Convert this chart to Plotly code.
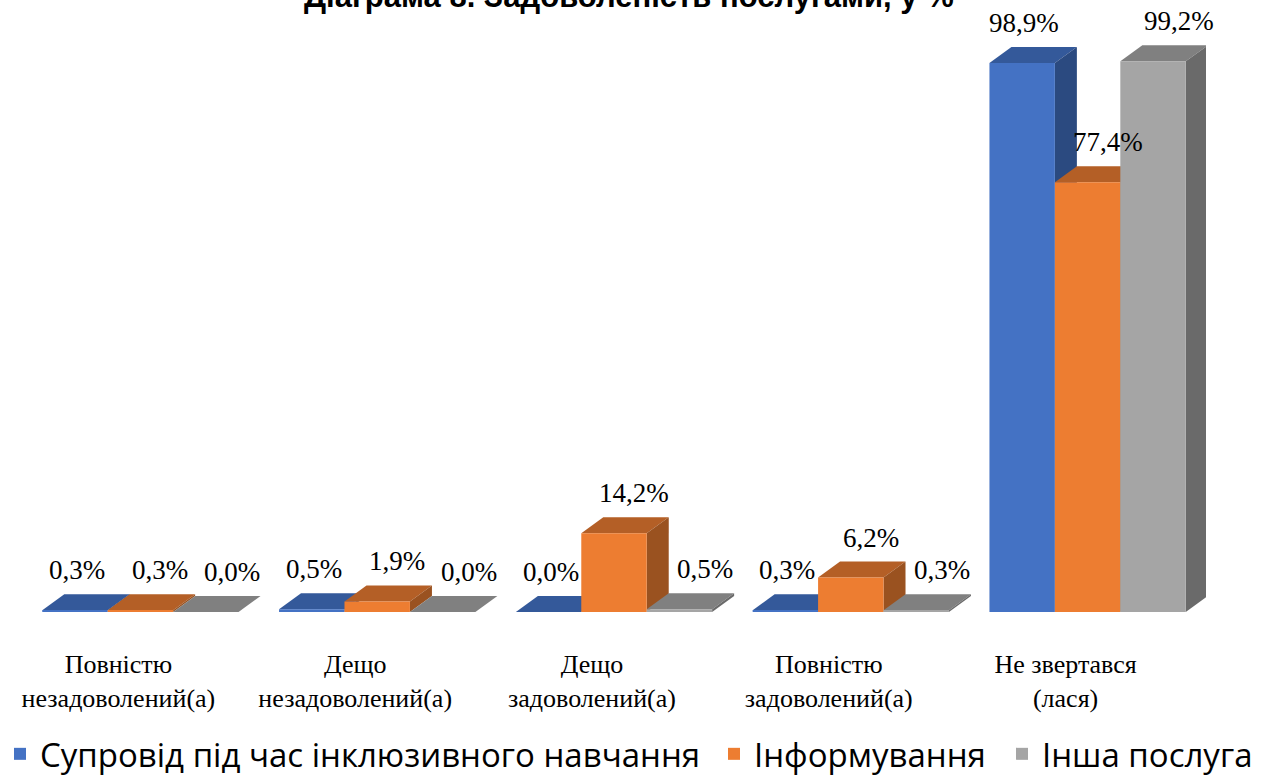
import plotly.graph_objects as go

# Satisfaction with services, % of respondents
categories = [
    "Повністю<br>незадоволений(а)",
    "Дещо<br>незадоволений(а)",
    "Дещо<br>задоволений(а)",
    "Повністю<br>задоволений(а)",
    "Не звертався<br>(лася)",
]
series_names = [
    "Супровід під час інклюзивного навчання",
    "Інформування",
    "Інша послуга",
]
support_vals = [0.3, 0.5, 0.0, 0.3, 98.9]
inform_vals = [0.3, 1.9, 14.2, 6.2, 77.4]
other_vals = [0.0, 0.0, 0.5, 0.3, 99.2]
title_text = "Діаграма 8. Задоволеність послугами, у %"

# colour sets: front face, top face, side face
palettes = [
    ("#4472C4", "#34599A", "#2B4A80"),
    ("#ED7D31", "#B45F26", "#9A5220"),
    ("#A5A5A5", "#808080", "#6A6A6A"),
]
label_xshift = [2, 20, 26]
SERIF = "Liberation Serif, Times New Roman, serif"

W, H = 1264, 778
ML, MR, MT, MB = 22, 58, 30, 166
x_range = [-0.5, 4.5]
y_max = 104.85
plot_h = H - MT - MB
px_per_x = (W - ML - MR) / (x_range[1] - x_range[0])
px_per_y = plot_h / y_max

# pseudo-3D depth of the columns
DX = 22 / px_per_x
DY = 16 / px_per_y

group_w = 1 - 0.171
bar_w = group_w / 3

# one single-entry legend per series, laid out along the bottom edge
legend_ids = ["legend", "legend2", "legend3"]
legend_left_px = [0, 714, 1002]

fig = go.Figure()
shapes = []
annotations = []
all_vals = [support_vals, inform_vals, other_vals]
xs = list(range(len(categories)))

for k, (name, vals, pal) in enumerate(zip(series_names, all_vals, palettes)):
    off = -group_w / 2 + k * bar_w
    fig.add_trace(go.Bar(
        x=xs, y=vals, name=name, width=bar_w, offset=off,
        marker=dict(color=pal[0], line=dict(width=0)),
        legend=legend_ids[k], hoverinfo="skip",
    ))

# top and side faces, drawn group by group from left to right so that
# later columns overlap the side faces of earlier ones
for i in xs:
    for k, (vals, pal) in enumerate(zip(all_vals, palettes)):
        v = vals[i]
        x0 = i - group_w / 2 + k * bar_w
        x1 = x0 + bar_w
        top = f"M {x0} {v} L {x1} {v} L {x1 + DX} {v + DY} L {x0 + DX} {v + DY} Z"
        side = f"M {x1} 0 L {x1} {v} L {x1 + DX} {v + DY} L {x1 + DX} {DY} Z"
        shapes.append(dict(type="path", path=top, xref="x", yref="y",
                           fillcolor=pal[1], line=dict(width=0), layer="below"))
        shapes.append(dict(type="path", path=side, xref="x", yref="y",
                           fillcolor=pal[2], line=dict(width=0), layer="below"))
        annotations.append(dict(
            x=(x0 + x1) / 2, y=v, xref="x", yref="y",
            text=f"{v:.1f}%".replace(".", ","),
            showarrow=False, xanchor="center", yanchor="middle",
            xshift=label_xshift[k], yshift=40,
            font=dict(family=SERIF, size=27, color="#000000"),
        ))

# chart heading, sitting at the very top edge of the page
annotations.append(dict(
    text=f"<b>{title_text}</b>", xref="paper", yref="paper",
    x=0.5127, y=1 + 33 / plot_h, xanchor="center", yanchor="middle",
    showarrow=False,
    font=dict(family="Liberation Sans, Arial, sans-serif", size=31, color="#000000"),
))

legend_style = dict(
    orientation="h", xref="container", yref="container",
    xanchor="left", y=0.031, yanchor="middle",
    font=dict(family="Open Sans", size=33, color="#000000"),
    itemwidth=30, bgcolor="rgba(0,0,0,0)",
)

fig.update_layout(
    width=W, height=H,
    margin=dict(l=ML, r=MR, t=MT, b=MB, autoexpand=False),
    paper_bgcolor="#FFFFFF", plot_bgcolor="#FFFFFF",
    barmode="overlay",
    shapes=shapes,
    annotations=annotations,
    showlegend=True,
    legend=dict(legend_style, x=legend_left_px[0] / W),
    legend2=dict(legend_style, x=legend_left_px[1] / W),
    legend3=dict(legend_style, x=legend_left_px[2] / W),
    xaxis=dict(
        range=x_range, tickmode="array", tickvals=xs, ticktext=categories,
        showgrid=False, zeroline=False, showline=False, ticks="",
        ticklabelshift=-22, ticklabelstandoff=34,
        tickfont=dict(family=SERIF, size=26, color="#000000"),
        fixedrange=True,
    ),
    yaxis=dict(
        range=[0, y_max], showgrid=False, zeroline=False, showline=False,
        showticklabels=False, ticks="", fixedrange=True,
    ),
)

fig.write_html("out.html")
